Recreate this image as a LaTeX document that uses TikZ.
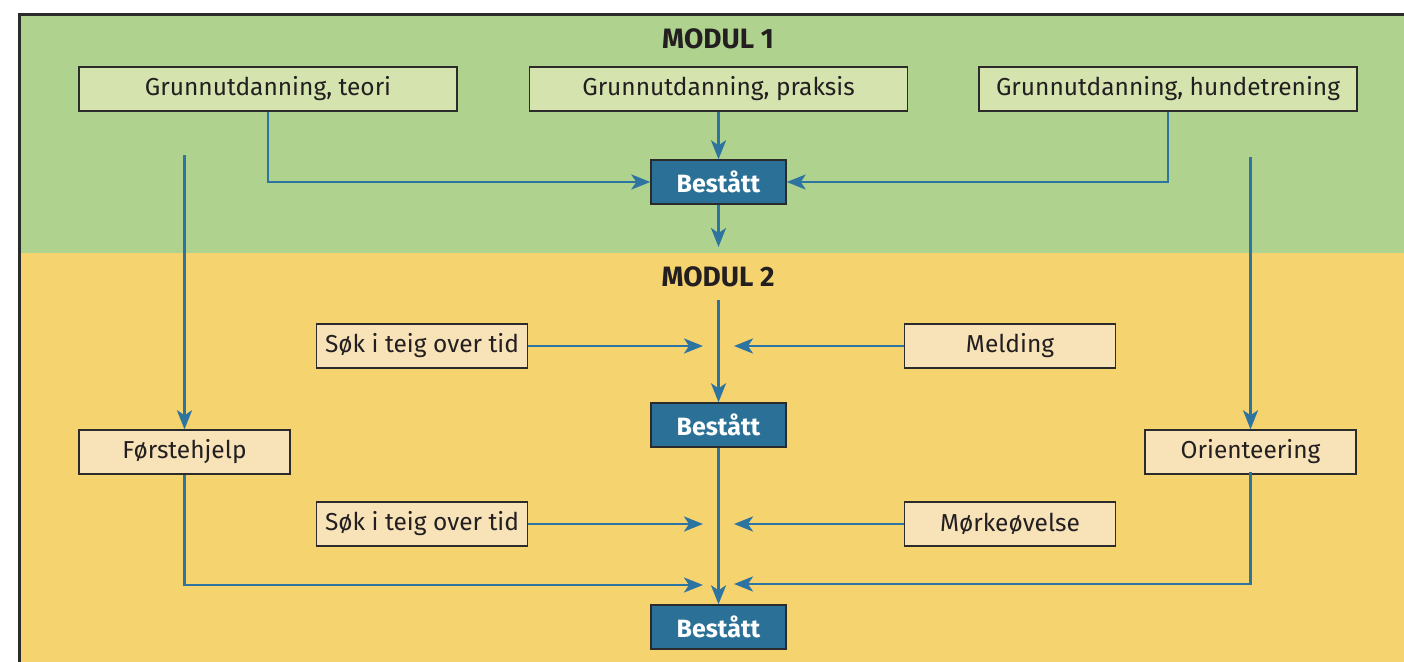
\documentclass[tikz,border=0pt]{standalone}
\usepackage{fontspec}
\setmainfont{Fira Sans}
\usepackage{xcolor}
\usepackage{tikz}
\usetikzlibrary{arrows.meta}

\definecolor{bggreen}{HTML}{AFD28F}
\definecolor{bgyellow}{HTML}{F5D36F}
\definecolor{lightgreen}{HTML}{D5E4AF}
\definecolor{lightyellow}{HTML}{F8E3B9}
\definecolor{passblue}{HTML}{2B7197}
\definecolor{flowblue}{HTML}{2D74A0}
\definecolor{boxline}{HTML}{2B2B2B}
\definecolor{textdark}{HTML}{231F20}

\tikzset{
    modbox/.style={draw=boxline, line width=1.4pt, minimum height=44pt, inner sep=0pt,
        text=textdark, font=\fontsize{24.5}{28}\selectfont},
    greenbox/.style={modbox, fill=lightgreen, minimum width=378pt},
    yellowbox/.style={modbox, fill=lightyellow, minimum width=211pt},
    passbox/.style={draw=boxline, fill=passblue, line width=1.4pt, minimum width=135pt,
        minimum height=44pt, inner sep=0pt, text=white, font=\bfseries\fontsize{25}{28}\selectfont},
    flow/.style={draw=flowblue, line width=2.6pt, -{Stealth[length=19pt,width=15pt,inset=5pt]}},
    modtitle/.style={text=textdark, font=\bfseries\fontsize{28}{32}\selectfont}
}

\begin{document}
\begin{tikzpicture}[x=1pt,y=-1pt]
    \useasboundingbox (0,0) rectangle (1404,661);
    \clip (0,0) rectangle (1404,661);

    % Backgrounds and frame
    \fill[bggreen] (19,15) rectangle (1450,253);
    \fill[bgyellow] (19,253) rectangle (1450,700);
    \draw[boxline, line width=3pt] (19,700) -- (19,15) -- (1450,15);

    % Modul 1
    \node[modtitle] (mod1) at (718,39) {MODUL 1};
    \node[greenbox] (teori) at (268,89) {Grunnutdanning, teori};
    \node[greenbox] (praksis) at (718.5,89) {Grunnutdanning, praksis};
    \node[greenbox] (hund) at (1168,89) {Grunnutdanning, hundetrening};
    \node[passbox] (pass1) at (718.5,182) {Bestått};

    \draw[flow] (teori.south) |- (pass1.west);
    \draw[flow] (praksis.south) -- (pass1.north);
    \draw[flow] (hund.south) |- (pass1.east);
    \coordinate (m1out) at (718.5,247);
    \draw[flow] (pass1.south) -- (m1out);

    % Modul 2
    \node[modtitle] (mod2) at (718,277) {MODUL 2};
    \node[yellowbox] (sok1) at (422,346) {Søk i teig over tid};
    \node[yellowbox] (melding) at (1010,346) {Melding};
    \node[passbox] (pass2) at (718.5,425) {Bestått};
    \node[yellowbox] (forste) at (184.5,452) {Førstehjelp};
    \node[yellowbox] (orient) at (1250.5,452) {Orienteering};
    \node[yellowbox] (sok2) at (422,524) {Søk i teig over tid};
    \node[yellowbox] (mork) at (1010,524) {Mørkeøvelse};
    \node[passbox] (pass3) at (718.5,627) {Bestått};

    % Side tracks
    \coordinate (leftstart) at (184.5,155);
    \coordinate (rightstart) at (1250.5,157);
    \draw[flow] (leftstart) -- (forste.north);
    \draw[flow] (rightstart) -- (orient.north);

    % Joins
    \coordinate (m2in) at (718.5,300);
    \coordinate (join1l) at (703,346);
    \coordinate (join1r) at (734,346);
    \coordinate (join2l) at (703,524);
    \coordinate (join2r) at (734,524);
    \coordinate (join3l) at (703,585);
    \coordinate (join3r) at (734,584);

    \draw[flow] (m2in) -- (pass2.north);
    \draw[flow] (sok1) -- (join1l);
    \draw[flow] (melding) -- (join1r);
    \draw[flow] (pass2.south) -- (pass3.north);
    \draw[flow] (sok2) -- (join2l);
    \draw[flow] (mork) -- (join2r);
    \draw[flow] (forste.south) |- (join3l);
    \draw[flow] ([yshift=3pt]orient.south) |- (join3r);
\end{tikzpicture}
\end{document}
